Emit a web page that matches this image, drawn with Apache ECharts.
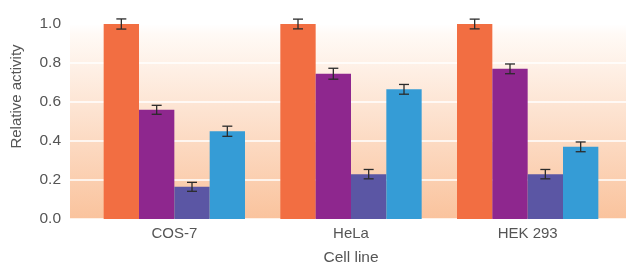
<!DOCTYPE html>
<html>
<head>
<meta charset="utf-8">
<script src="https://cdn.jsdelivr.net/npm/echarts@6/dist/echarts.min.js"></script>
<style>
  html, body { margin: 0; padding: 0; background: #fff; }
  #chart { width: 626px; height: 264px; }
</style>
</head>
<body>
<div id="chart"></div>
<script>
// cell lines on the x axis
var categories = ['COS-7', 'HeLa', 'HEK 293'];

// relative activity per series and their error bar half-heights
var orangeVals = [1.0, 1.0, 1.0];
var orangeErr = [0.026, 0.025, 0.025];
var purpleVals = [0.56, 0.745, 0.77];
var purpleErr = [0.023, 0.028, 0.025];
var indigoVals = [0.165, 0.23, 0.23];
var indigoErr = [0.023, 0.024, 0.024];
var blueVals = [0.45, 0.665, 0.37];
var blueErr = [0.026, 0.025, 0.025];

var yTicks = [0, 0.2, 0.4, 0.6, 0.8, 1.0];

var colors = ['#f26e42', '#8e278e', '#5b56a4', '#359cd6'];
var allVals = [orangeVals, purpleVals, indigoVals, blueVals];
var allErr = [orangeErr, purpleErr, indigoErr, blueErr];

var BAR_PCT = 0.2;
var FONT = 'Liberation Sans';
var TXT = '#555';

var myChart = echarts.init(document.getElementById('chart'), null, {renderer: 'canvas'});

function errorSeries(idx) {
    var data = allVals[idx].map(function (v, i) {
        return [i, v - allErr[idx][i], v + allErr[idx][i]];
    });
    return {
        type: 'custom',
        xAxisIndex: 1,
        yAxisIndex: 1,
        z: 10,
        silent: true,
        data: data,
        renderItem: function (params, api) {
            var band = api.size([1, 0])[0];
            var off = band * BAR_PCT * (idx - 1.5);
            var lo = api.coord([api.value(0), api.value(1)]);
            var hi = api.coord([api.value(0), api.value(2)]);
            var x = lo[0] + off;
            var half = 5;
            var style = {stroke: '#2b2b2b', lineWidth: 1.3};
            return {
                type: 'group',
                children: [
                    {type: 'line', shape: {x1: x, y1: hi[1], x2: x, y2: lo[1]}, style: style},
                    {type: 'line', shape: {x1: x - half, y1: hi[1], x2: x + half, y2: hi[1]}, style: style},
                    {type: 'line', shape: {x1: x - half, y1: lo[1], x2: x + half, y2: lo[1]}, style: style}
                ]
            };
        }
    };
}

var series = [];
allVals.forEach(function (vals, i) {
    series.push({
        type: 'bar',
        xAxisIndex: 1,
        yAxisIndex: 1,
        data: vals,
        barWidth: (BAR_PCT * 100) + '%',
        barGap: '0%',
        itemStyle: {color: colors[i]},
        silent: true
    });
});
allVals.forEach(function (vals, i) {
    series.push(errorSeries(i));
});

var option = {
    animation: false,
    grid: [
        {
            left: 70, right: 0, top: 24, bottom: 45,
            outerBoundsMode: 'none',
            containLabel: false,
            show: true,
            borderWidth: 0,
            backgroundColor: new echarts.graphic.LinearGradient(0, 0, 0, 1, [
                {offset: 0, color: '#ffffff'},
                {offset: 0.05, color: '#fffaf6'},
                {offset: 1, color: '#fac39d'}
            ])
        },
        {left: 86, right: 10, top: 24, bottom: 45, outerBoundsMode: 'none', containLabel: false}
    ],
    xAxis: [
        {type: 'value', gridIndex: 0, show: false, min: 0, max: 1},
        {
            type: 'category',
            gridIndex: 1,
            data: categories,
            name: 'Cell line',
            nameLocation: 'middle',
            nameGap: 31,
            nameTextStyle: {fontFamily: FONT, fontSize: 15.5, color: TXT},
            axisLine: {show: false},
            axisTick: {show: false},
            axisLabel: {fontFamily: FONT, fontSize: 15, color: TXT, margin: 7}
        }
    ],
    yAxis: [
        {
            type: 'value',
            gridIndex: 0,
            min: yTicks[0],
            max: yTicks[yTicks.length - 1],
            interval: 0.2,
            name: 'Relative activity',
            nameLocation: 'middle',
            nameGap: 46,
            nameTextStyle: {fontFamily: FONT, fontSize: 15, color: TXT, padding: [0, 0, 0, 50]},
            axisLine: {show: false},
            axisTick: {show: false},
            axisLabel: {
                fontFamily: FONT, fontSize: 15.5, color: TXT, margin: 9,
                padding: [0, 0, 5, 0],
                formatter: function (v) { return v.toFixed(1); }
            },
            splitLine: {show: true, lineStyle: {color: '#ffffff', width: 1.5}}
        },
        {
            type: 'value',
            gridIndex: 1,
            min: yTicks[0],
            max: yTicks[yTicks.length - 1],
            show: false,
            splitLine: {show: false}
        }
    ],
    series: series
};

if (option && typeof option === "object") {
    myChart.setOption(option, true);
}
</script>
</body>
</html>
